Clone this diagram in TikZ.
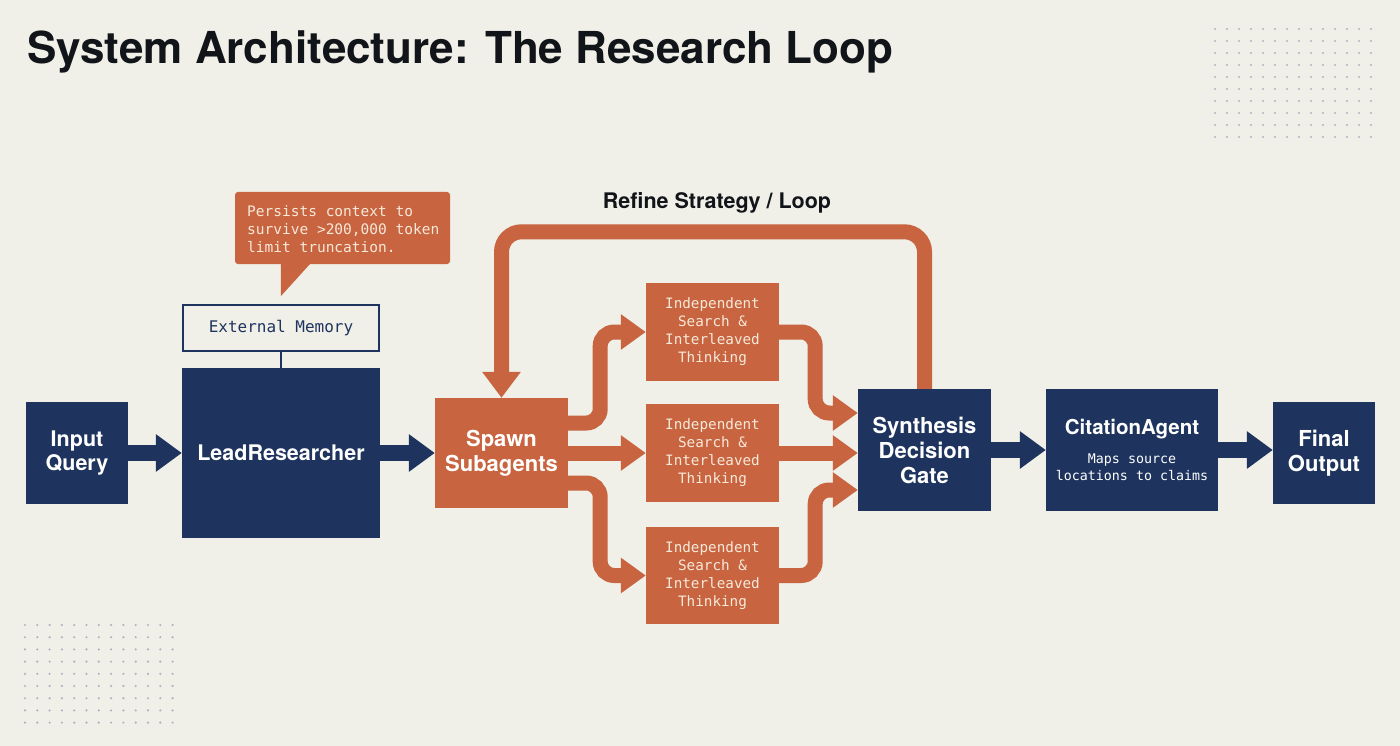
\documentclass[tikz,border=0pt]{standalone}
\usepackage{fontspec}
\setmainfont{TeX Gyre Heros}
\newfontfamily\monof{DejaVu Sans Mono}
\usetikzlibrary{arrows.meta}
\definecolor{bg}{HTML}{F0EFE8}
\definecolor{navy}{HTML}{1E345E}
\definecolor{rust}{HTML}{C8643F}
\definecolor{cream}{HTML}{F6E9DA}
\definecolor{ink}{HTML}{111418}
\definecolor{dotc}{HTML}{AEB3C2}
\tikzset{
  navybox/.style={fill=navy, text=white, inner sep=0pt, align=center, font=\bfseries\fontsize{21.5}{24.5}\selectfont},
  rustbox/.style={fill=rust, text=cream, inner sep=0pt, align=center, font=\monof\fontsize{14.3}{18}\selectfont},
  navyarrow/.style={draw=navy, line width=16pt, -{Triangle[length=26pt,width=36pt]}},
  rustarrow/.style={draw=rust, line width=15pt, rounded corners=14pt, -{Triangle[length=25pt,width=34pt]}},
  looparrow/.style={draw=rust, line width=15pt, rounded corners=20pt, -{Triangle[length=26pt,width=37pt]}},
  dot/.style={fill=dotc}
}
\begin{document}
\begin{tikzpicture}[x=1pt,y=-1pt]
\fill[bg] (0,0) rectangle (1400,746);
\useasboundingbox (0,0) rectangle (1400,746);
% dot grids
\foreach \i in {0,...,13}{\foreach \j in {0,...,9}{\fill[dot] (1215+12*\i,29+12*\j) circle (1.2);}}
\foreach \i in {0,...,12}{\foreach \j in {0,...,8}{\fill[dot] (25+12.3*\i,625+12.2*\j) circle (1.2);}}
% title
\node[anchor=base west, inner sep=0pt, text=ink, font=\bfseries\fontsize{44}{50}\selectfont] (title) at (27,64) {System Architecture: The Research Loop};
% nodes
\node[navybox, minimum width=102pt, minimum height=102pt] (inq) at (77,453) {Input\\Query};
\node[navybox, minimum width=198pt, minimum height=170pt] (lead) at (281,453) {LeadResearcher};
\node[draw=navy, line width=2pt, fill=bg, inner sep=0pt, minimum width=196pt, minimum height=46pt, text=navy, font=\monof\fontsize{16}{18}\selectfont] (mem) at (281,328) {External Memory};
\node[fill=rust, rounded corners=3pt, minimum width=215pt, minimum height=72pt, inner sep=0pt] (callout) at (342.5,228) {};
\fill[rust] ([xshift=46pt]callout.south west) -- ++(0,32) -- ([xshift=75pt]callout.south west) -- cycle;
\node[anchor=west, text=cream, align=left, inner sep=0pt, font=\monof\fontsize{14.5}{18}\selectfont] (callouttext) at (247,229) {Persists context to\\survive >200,000 token\\limit truncation.};
\node[fill=rust, text=white, inner sep=0pt, align=center, minimum width=133pt, minimum height=110pt, font=\bfseries\fontsize{22}{24.5}\selectfont] (spawn) at (501.5,453) {Spawn\\Subagents};
\node[rustbox, minimum width=133pt, minimum height=98pt] (ind1) at (712.5,332) {Independent\\Search \&\\Interleaved\\Thinking};
\node[rustbox, minimum width=133pt, minimum height=98pt] (ind2) at (712.5,453) {Independent\\Search \&\\Interleaved\\Thinking};
\node[rustbox, minimum width=133pt, minimum height=97pt] (ind3) at (712.5,575.5) {Independent\\Search \&\\Interleaved\\Thinking};
\node[navybox, minimum width=133pt, minimum height=122pt, font=\bfseries\fontsize{22}{25}\selectfont] (synth) at (924.5,450) {Synthesis\\Decision\\Gate};
\node[navybox, minimum width=172pt, minimum height=122pt] (cite) at (1132,450) {};
\node[text=white, inner sep=0pt, font=\bfseries\fontsize{20.5}{24}\selectfont] (citet) at (1132,429) {CitationAgent};
\node[text=white, inner sep=0pt, align=center, font=\monof\fontsize{13.3}{17}\selectfont] (citesub) at (1132,467) {Maps source\\locations to claims};
\node[navybox, minimum width=102pt, minimum height=102pt, font=\bfseries\fontsize{22}{25}\selectfont] (final) at (1324,453) {Final\\Output};
\node[text=ink, inner sep=0pt, font=\bfseries\fontsize{21.5}{24}\selectfont] (refine) at (717,203) {Refine Strategy / Loop};
% connectors
\draw[navyarrow] (inq.east) -- (inq.east -| lead.west);
\draw[navyarrow] (lead.east) -- (lead.east -| spawn.west);
\draw[navy, line width=2pt] (mem.south) -- (lead.north);
\draw[rustarrow] ([yshift=30pt]spawn.east) -- ++(32,0) |- (ind1.west);
\draw[rustarrow] (spawn.east) -- (spawn.east -| ind2.west);
\draw[rustarrow] ([yshift=-30pt]spawn.east) -- ++(32,0) |- (ind3.west);
\draw[rustarrow] (ind1.east) -- ++(36,0) |- ([yshift=37pt]synth.west);
\draw[rustarrow] (ind2.east) -- (ind2.east -| synth.west);
\draw[rustarrow] (ind3.east) -- ++(36,0) |- ([yshift=-40pt]synth.west);
\draw[looparrow] (synth.north) -- ++(0,-157) -| (spawn.north);
\draw[navyarrow] (synth.east) -- (synth.east -| cite.west);
\draw[navyarrow] (cite.east) -- (cite.east -| final.west);
\end{tikzpicture}
\end{document}
